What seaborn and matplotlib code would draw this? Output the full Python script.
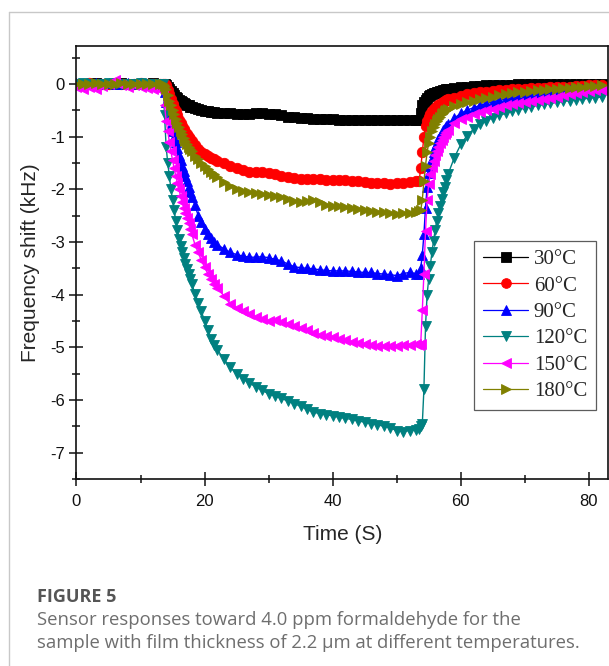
import numpy as np
import pandas as pd
import matplotlib
matplotlib.use("Agg")
import matplotlib.pyplot as plt
from matplotlib.lines import Line2D
from matplotlib.ticker import MultipleLocator
import seaborn as sns

# ---------------- data ----------------
seg_a = [0, 1, 2, 3, 4, 5, 6, 7, 8, 9, 10, 11, 12, 13]
seg_b = [13.5, 13.75, 14, 14.25, 14.5, 14.75, 15, 15.25, 15.5, 15.75, 16,
         16.25, 16.5, 16.75, 17, 17.25, 17.5, 17.75, 18,
         18.5, 19, 19.5, 20, 20.5, 21, 21.5, 22]
seg_c = list(range(23, 54))
seg_d = [53.5, 53.75, 54, 54.25, 54.5, 54.75, 55, 55.25, 55.5, 55.75, 56,
         56.25, 56.5, 56.75, 57, 57.25, 57.5, 57.75, 58]
seg_e = list(range(59, 83))
time_s = seg_a + seg_b + seg_c + seg_d + seg_e

shift_30 = (
    [0, -0.01, 0, 0.01, 0, -0.01, 0, 0.01, 0, 0, -0.01, 0, 0.01, 0]
    + [0, -0.01, -0.02, -0.06, -0.1, -0.14, -0.17, -0.21, -0.24, -0.27, -0.3,
       -0.32, -0.34, -0.36, -0.38, -0.4, -0.41, -0.43, -0.44,
       -0.46, -0.48, -0.5, -0.51, -0.52, -0.53, -0.54, -0.55]
    + [-0.56, -0.56, -0.57, -0.57, -0.57, -0.56, -0.56, -0.57, -0.58, -0.6,
       -0.62, -0.63, -0.64, -0.65, -0.66, -0.66, -0.67, -0.67, -0.68, -0.68,
       -0.68, -0.69, -0.69, -0.69, -0.69, -0.69, -0.69, -0.69, -0.69, -0.69, -0.69]
    + [-0.69, -0.55, -0.4, -0.34, -0.3, -0.26, -0.23, -0.21, -0.2, -0.18, -0.17,
       -0.16, -0.15, -0.14, -0.13, -0.12, -0.11, -0.105, -0.1]
    + [-0.08, -0.06, -0.05, -0.04, -0.04, -0.03, -0.03, -0.02, -0.02, -0.02,
       -0.01, -0.01, -0.01, -0.01, 0, 0, 0, 0, 0, 0, 0, 0, 0, 0]
)
shift_60 = (
    [-0.01, 0, 0.01, 0, -0.01, 0, 0.01, 0, -0.01, 0, 0.01, 0, 0, 0]
    + [0, -0.01, -0.02, -0.11, -0.2, -0.29, -0.38, -0.45, -0.52, -0.6, -0.68,
       -0.74, -0.8, -0.86, -0.92, -0.96, -1.0, -1.04, -1.08,
       -1.16, -1.23, -1.29, -1.33, -1.37, -1.4, -1.43, -1.46]
    + [-1.51, -1.56, -1.6, -1.64, -1.67, -1.68, -1.68, -1.69, -1.71, -1.74,
       -1.77, -1.79, -1.8, -1.8, -1.8, -1.81, -1.82, -1.83, -1.83, -1.83,
       -1.84, -1.85, -1.87, -1.88, -1.89, -1.89, -1.9, -1.89, -1.88, -1.86, -1.84]
    + [-1.85, -1.6, -1.3, -1.0, -0.8, -0.7, -0.62, -0.57, -0.52, -0.48, -0.45,
       -0.42, -0.4, -0.38, -0.36, -0.34, -0.32, -0.3, -0.29]
    + [-0.26, -0.23, -0.2, -0.18, -0.16, -0.15, -0.13, -0.12, -0.11, -0.1,
       -0.09, -0.09, -0.08, -0.07, -0.07, -0.06, -0.06, -0.05, -0.05, -0.04,
       -0.04, -0.03, -0.03, -0.03]
)
shift_90 = (
    [0.02, 0, -0.01, 0.01, 0, 0.02, 0, -0.01, 0.01, 0, 0.01, 0, 0, 0]
    + [0, -0.15, -0.35, -0.5, -0.65, -0.78, -0.9, -1.0, -1.1, -1.22, -1.35,
       -1.45, -1.55, -1.65, -1.75, -1.85, -1.95, -2.05, -2.15,
       -2.3, -2.5, -2.62, -2.75, -2.85, -2.93, -3.0, -3.05]
    + [-3.13, -3.2, -3.24, -3.27, -3.29, -3.29, -3.28, -3.3, -3.33, -3.36,
       -3.42, -3.47, -3.49, -3.5, -3.51, -3.53, -3.54, -3.55, -3.55, -3.55,
       -3.56, -3.57, -3.58, -3.58, -3.6, -3.61, -3.62, -3.64, -3.6, -3.58, -3.6]
    + [-3.6, -3.5, -3.25, -2.85, -2.35, -1.95, -1.7, -1.55, -1.42, -1.3, -1.2,
       -1.12, -1.05, -0.99, -0.93, -0.88, -0.84, -0.8, -0.76]
    + [-0.65, -0.56, -0.5, -0.45, -0.41, -0.37, -0.34, -0.31, -0.29, -0.27,
       -0.25, -0.23, -0.21, -0.2, -0.18, -0.17, -0.15, -0.14, -0.12, -0.11,
       -0.1, -0.09, -0.08, -0.07]
)
shift_120 = (
    [0, 0.01, 0, -0.01, 0, 0.01, 0, 0, -0.01, 0, 0.01, 0, 0, 0]
    + [0, -0.6, -1.2, -1.5, -1.75, -2.0, -2.2, -2.4, -2.6, -2.78, -2.95,
       -3.08, -3.2, -3.31, -3.42, -3.51, -3.6, -3.7, -3.8,
       -3.98, -4.15, -4.32, -4.5, -4.68, -4.85, -4.95, -5.05]
    + [-5.22, -5.38, -5.5, -5.6, -5.68, -5.75, -5.82, -5.88, -5.93, -5.97,
       -6.02, -6.07, -6.12, -6.18, -6.23, -6.26, -6.28, -6.3, -6.33, -6.35,
       -6.37, -6.4, -6.42, -6.45, -6.47, -6.5, -6.53, -6.58, -6.6, -6.58, -6.57]
    + [-6.55, -6.5, -6.45, -5.8, -4.6, -4.0, -3.7, -3.45, -3.2, -2.98, -2.78,
       -2.6, -2.45, -2.31, -2.18, -2.06, -1.95, -1.83, -1.72]
    + [-1.4, -1.15, -0.98, -0.86, -0.77, -0.7, -0.64, -0.6, -0.56, -0.52,
       -0.49, -0.46, -0.43, -0.41, -0.39, -0.37, -0.35, -0.33, -0.32, -0.3,
       -0.29, -0.27, -0.26, -0.25]
)
shift_150 = (
    [-0.05, -0.1, -0.06, -0.1, -0.04, 0.0, 0.08, -0.03, -0.05, -0.02, -0.06,
     -0.08, -0.1, -0.12]
    + [-0.12, -0.4, -0.7, -0.9, -1.1, -1.28, -1.45, -1.6, -1.75, -1.88, -2.0,
       -2.13, -2.25, -2.35, -2.45, -2.55, -2.65, -2.75, -2.85,
       -3.05, -3.2, -3.35, -3.48, -3.6, -3.7, -3.8, -3.88]
    + [-4.02, -4.18, -4.25, -4.32, -4.37, -4.42, -4.47, -4.5, -4.48, -4.52,
       -4.56, -4.6, -4.63, -4.68, -4.73, -4.77, -4.79, -4.81, -4.84, -4.87,
       -4.9, -4.92, -4.94, -4.96, -4.97, -4.98, -4.97, -4.97, -4.96, -4.95, -4.94]
    + [-4.95, -4.93, -4.3, -3.6, -2.8, -2.2, -1.9, -1.72, -1.58, -1.46, -1.35,
       -1.27, -1.2, -1.13, -1.06, -1.01, -0.96, -0.91, -0.87]
    + [-0.74, -0.67, -0.62, -0.58, -0.54, -0.5, -0.47, -0.44, -0.41, -0.38,
       -0.36, -0.34, -0.32, -0.3, -0.28, -0.26, -0.24, -0.22, -0.2, -0.18,
       -0.16, -0.14, -0.12, -0.11]
)
shift_180 = (
    [0, -0.01, 0, 0.01, 0, -0.01, 0, 0.01, 0, 0, -0.01, 0, 0, -0.01]
    + [0, -0.04, -0.1, -0.21, -0.32, -0.41, -0.5, -0.58, -0.66, -0.74, -0.82,
       -0.89, -0.96, -1.02, -1.08, -1.14, -1.19, -1.24, -1.28,
       -1.36, -1.43, -1.5, -1.56, -1.62, -1.67, -1.72, -1.76]
    + [-1.86, -1.94, -1.99, -2.03, -2.06, -2.07, -2.09, -2.1, -2.12, -2.15,
       -2.19, -2.23, -2.25, -2.23, -2.21, -2.25, -2.29, -2.31, -2.32, -2.34,
       -2.36, -2.38, -2.4, -2.42, -2.43, -2.44, -2.46, -2.47, -2.46, -2.45, -2.44]
    + [-2.42, -2.4, -2.2, -1.85, -1.55, -1.3, -1.12, -1.0, -0.9, -0.82, -0.76,
       -0.71, -0.66, -0.62, -0.58, -0.55, -0.52, -0.49, -0.47]
    + [-0.42, -0.38, -0.35, -0.32, -0.29, -0.26, -0.24, -0.22, -0.2, -0.18,
       -0.16, -0.15, -0.14, -0.12, -0.11, -0.1, -0.09, -0.08, -0.07, -0.06,
       -0.05, -0.04, -0.04, -0.03]
)

labels = ["30°C", "60°C", "90°C", "120°C", "150°C", "180°C"]
series = [shift_30, shift_60, shift_90, shift_120, shift_150, shift_180]
colors = ["#000000", "#ff0000", "#0000ff", "#008080", "#ff00ff", "#808000"]
markers = ["s", "o", "^", "v", "<", ">"]

x_ticks = [0, 20, 40, 60, 80]
y_ticks = [0, -1, -2, -3, -4, -5, -6, -7]

# ---------------- figure ----------------
sns.set_style("ticks")
plt.rcParams["font.family"] = ["Liberation Sans", "DejaVu Sans"]

fig = plt.figure(figsize=(6.09, 6.66), dpi=100)
ax = fig.add_axes([0.1256, 0.2808, 0.8728, 0.6502])

for lab, vals, col, mk in zip(labels, series, colors, markers):
    df = pd.DataFrame({"t": time_s, "v": vals})
    sns.lineplot(data=df, x="t", y="v", ax=ax, color=col, marker=mk,
                 markersize=7.5, markeredgecolor=col, markeredgewidth=0.6,
                 linewidth=1.0, estimator=None, sort=False, label=lab)

ax.set_xlim(0, 83)
ax.set_ylim(-7.5, 0.72)
ax.set_xticks(x_ticks)
ax.set_yticks(y_ticks)
ax.set_yticklabels([str(v) for v in y_ticks])
ax.xaxis.set_minor_locator(MultipleLocator(10))
ax.yaxis.set_minor_locator(MultipleLocator(0.5))
ax.tick_params(axis="x", which="major", pad=6)
ax.tick_params(which="major", direction="inout", length=10, width=1.1,
               labelsize=12, colors="#111111")
ax.tick_params(which="minor", direction="inout", length=6, width=1.1,
               colors="#111111")
ax.tick_params(top=False, right=False, which="both")
for sp in ax.spines.values():
    sp.set_visible(True)
    sp.set_linewidth(1.2)
    sp.set_color("#111111")

ax.set_xlabel("Time (S)", fontsize=15, labelpad=11)
ax.set_ylabel("Frequency shift (kHz)", fontsize=15, labelpad=7)

leg = ax.legend(loc="lower right", bbox_to_anchor=(0.977, 0.159),
                borderaxespad=0, frameon=True, fancybox=False,
                prop={"family": ["Liberation Serif"], "size": 15},
                handlelength=2.2, handletextpad=0.25, labelspacing=0.33,
                borderpad=0.42, numpoints=1)
leg.get_frame().set_edgecolor("#333333")
leg.get_frame().set_linewidth(0.9)
for h in leg.legend_handles:
    h.set_markersize(7)
    h.set_linewidth(0.9)

# page frame
fig.add_artist(Line2D([9 / 609, 1.0], [1 - 12 / 666, 1 - 12 / 666],
                      transform=fig.transFigure, color="#c8c8c8", lw=1.0))
fig.add_artist(Line2D([9 / 609, 9 / 609], [0, 1 - 12 / 666],
                      transform=fig.transFigure, color="#c8c8c8", lw=1.0))

# caption
fig.text(37 / 609, 1 - 597 / 666, "FIGURE 5", fontsize=13, fontweight="bold",
         color="#555555", family=["Open Sans", "DejaVu Sans"], va="center")
fig.text(37 / 609, 1 - 620 / 666,
         "Sensor responses toward 4.0 ppm formaldehyde for the",
         fontsize=13.3, color="#6e6e6e", family=["Open Sans", "DejaVu Sans"],
         va="center")
fig.text(37 / 609, 1 - 643 / 666,
         "sample with film thickness of 2.2 μm at different temperatures.",
         fontsize=13.3, color="#6e6e6e", family=["Open Sans", "DejaVu Sans"],
         va="center")

fig.savefig("out.png", dpi=100)
